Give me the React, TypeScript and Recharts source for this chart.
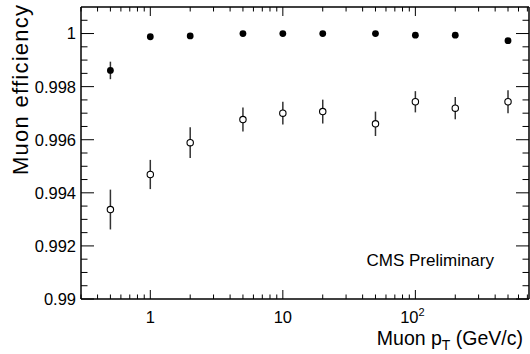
import React from "react";
import { ScatterChart, Scatter, XAxis, YAxis, ErrorBar } from "recharts";

// muon pT bins (GeV/c)
const ptBins = [0.5, 1, 2, 5, 10, 20, 50, 100, 200, 500];
// filled markers
const effFilled = [0.99861, 0.99988, 0.99991, 1.0, 1.0, 1.0, 1.0, 0.99994, 0.99994, 0.99973];
const errFilled = [0.00033, 0, 0, 0, 0, 0, 0, 0, 0, 0.00006];
// open markers
const effOpen = [0.99337, 0.99469, 0.99589, 0.99676, 0.997, 0.99706, 0.9966, 0.99743, 0.99719, 0.99743];
const errOpen = [0.00075, 0.00055, 0.00058, 0.00045, 0.00043, 0.00045, 0.00046, 0.0004, 0.00042, 0.00043];

const xTicks = [
  0.3, 0.4, 0.5, 0.6, 0.7, 0.8, 0.9,
  1, 2, 3, 4, 5, 6, 7, 8, 9,
  10, 20, 30, 40, 50, 60, 70, 80, 90,
  100, 200, 300, 400, 500, 600, 700,
];
const xMajor = [1, 10, 100];
const yTicks = [
  0.99, 0.9905, 0.991, 0.9915, 0.992, 0.9925, 0.993, 0.9935, 0.994, 0.9945,
  0.995, 0.9955, 0.996, 0.9965, 0.997, 0.9975, 0.998, 0.9985, 0.999, 0.9995,
  1.0, 1.0005,
];
const yMajor = [0.99, 0.992, 0.994, 0.996, 0.998, 1.0];
const yLabels = ["0.99", "0.992", "0.994", "0.996", "0.998", "1"];

const FONT = "'Liberation Sans', Arial, Helvetica, sans-serif";

const filledData = ptBins.map((pt, i) => ({ pt, eff: effFilled[i], err: errFilled[i] }));
const openData = ptBins.map((pt, i) => ({ pt, eff: effOpen[i], err: errOpen[i] }));

const isMajorY = (v: number) => yMajor.some((m) => Math.abs(m - v) < 1e-7);

const XTick = (props: any) => {
  const { x, y, payload, side } = props;
  const major = xMajor.includes(payload.value);
  const len = major ? 9 : 4.5;
  const dir = side === "top" ? 1 : -1;
  let label: React.ReactNode = null;
  if (side === "bottom" && major) {
    label =
      payload.value === 100 ? (
        <text x={x - 3} y={y + 24} textAnchor="middle" fontSize={16.5} fontFamily={FONT} fill="#000">
          <tspan>10</tspan>
          <tspan dy={-7} fontSize={11}>2</tspan>
        </text>
      ) : (
        <text x={x} y={y + 24} textAnchor="middle" fontSize={16.5} fontFamily={FONT} fill="#000">
          {String(payload.value)}
        </text>
      );
  }
  return (
    <g>
      <line x1={x} x2={x} y1={y} y2={y + dir * len} stroke="#000" strokeWidth={1} />
      {label}
    </g>
  );
};

const YTick = (props: any) => {
  const { x, y, payload, side } = props;
  const major = isMajorY(payload.value);
  const len = major ? 13 : 6.5;
  const dir = side === "left" ? 1 : -1;
  let label: React.ReactNode = null;
  if (side === "left" && major) {
    const idx = yMajor.findIndex((m) => Math.abs(m - payload.value) < 1e-7);
    label = (
      <text x={x - 5} y={y} dy="0.36em" textAnchor="end" fontSize={16.5} fontFamily={FONT} fill="#000">
        {yLabels[idx]}
      </text>
    );
  }
  return (
    <g>
      <line x1={x} x2={x + dir * len} y1={y} y2={y} stroke="#000" strokeWidth={1} />
      {label}
    </g>
  );
};

const Filled = (p: any) => <circle cx={p.cx} cy={p.cy} r={3.4} fill="#000" />;
const Open = (p: any) => <circle cx={p.cx} cy={p.cy} r={3.2} fill="#fff" stroke="#000" strokeWidth={1.1} />;
const Nothing = () => <g />;

export default function App() {
  return (
    <div style={{ position: "absolute", left: 0, top: 0, width: 530, height: 354, background: "#fff" }}>
      <ScatterChart width={530} height={354} margin={{ top: 6, right: 0, bottom: 54, left: 80 }}>
        <XAxis
          dataKey="pt"
          type="number"
          scale="log"
          domain={[0.3, 720]}
          allowDataOverflow
          ticks={xTicks}
          interval={0}
          height={1}
          tickSize={0}
          tickMargin={0}
          tickLine={false}
          axisLine={{ stroke: "#000", strokeWidth: 1.5 }}
          tick={(p: any) => <XTick {...p} side="bottom" />}
          label={(p: any) => {
            const vb = p.viewBox;
            return (
              <text
                x={vb.x + vb.width - 6}
                y={vb.y + 46}
                textAnchor="end"
                fontSize={19.5}
                fontFamily={FONT}
                fill="#000"
              >
                <tspan>Muon p</tspan>
                <tspan dy={5} fontSize={14}>T</tspan>
                <tspan dy={-5}>{"\u00a0(GeV/c)"}</tspan>
              </text>
            );
          }}
        />
        <XAxis
          xAxisId="top"
          orientation="top"
          dataKey="pt"
          type="number"
          scale="log"
          domain={[0.3, 720]}
          allowDataOverflow
          ticks={xTicks}
          interval={0}
          height={1}
          tickSize={0}
          tickMargin={0}
          tickLine={false}
          axisLine={{ stroke: "#000", strokeWidth: 1.5 }}
          tick={(p: any) => <XTick {...p} side="top" />}
        />
        <YAxis
          dataKey="eff"
          type="number"
          domain={[0.99, 1.001]}
          allowDataOverflow
          ticks={yTicks}
          interval={0}
          width={1}
          tickSize={0}
          tickMargin={0}
          tickLine={false}
          axisLine={{ stroke: "#000", strokeWidth: 1.5 }}
          tick={(p: any) => <YTick {...p} side="left" />}
          label={() => {
            const lx = 28;
            const ly = 5;
            return (
              <text
                x={lx}
                y={ly}
                textAnchor="end"
                transform={`rotate(-90 ${lx} ${ly})`}
                fontSize={22}
                textLength={170}
                lengthAdjust="spacing"
                fontFamily={FONT}
                fill="#000"
              >
                Muon efficiency
              </text>
            );
          }}
        />
        <YAxis
          yAxisId="right"
          orientation="right"
          type="number"
          domain={[0.99, 1.001]}
          allowDataOverflow
          ticks={yTicks}
          interval={0}
          width={1}
          tickSize={0}
          tickMargin={0}
          tickLine={false}
          axisLine={{ stroke: "#000", strokeWidth: 1.5 }}
          tick={(p: any) => <YTick {...p} side="right" />}
          label={(p: any) => {
            const vb = p.viewBox;
            return (
              <text
                x={494}
                y={vb.y + vb.height - 33}
                textAnchor="end"
                fontSize={17}
                fontFamily={FONT}
                fill="#000"
              >
                CMS Preliminary
              </text>
            );
          }}
        />
        <Scatter data={openData} dataKey="eff" shape={Nothing} isAnimationActive={false}>
          <ErrorBar dataKey="err" direction="y" width={0} stroke="#333" strokeWidth={1.5} />
        </Scatter>
        <Scatter data={filledData} dataKey="eff" shape={Nothing} isAnimationActive={false}>
          <ErrorBar dataKey="err" direction="y" width={0} stroke="#333" strokeWidth={1.5} />
        </Scatter>
        <Scatter data={openData} dataKey="eff" shape={Open} isAnimationActive={false} />
        <Scatter data={filledData} dataKey="eff" shape={Filled} isAnimationActive={false} />
      </ScatterChart>
    </div>
  );
}
